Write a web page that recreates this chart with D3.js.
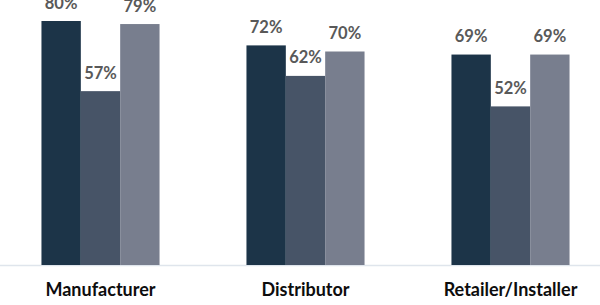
<!DOCTYPE html>
<html>
<head>
<meta charset="utf-8">
<script src="https://cdn.jsdelivr.net/npm/d3@7"></script>
<style>
  html, body { margin: 0; padding: 0; background: #fff; }
  svg { display: block; }
</style>
</head>
<body>
<div id="chart"></div>
<script>
  // Data
  const CATEGORIES = ['Manufacturer', 'Distributor', 'Retailer/Installer'];
  const SERIES = ['s1', 's2', 's3'];
  const VALUES_S1 = [80, 72, 69];
  const VALUES_S2 = [57, 62, 52];
  const VALUES_S3 = [79, 70, 69];
  const COLORS = ['#1c3448', '#475467', '#787e8e'];

  const W = 600, H = 305;
  const baseY = 265;

  const rows = CATEGORIES.map((c, i) => ({
    cat: c,
    vals: [VALUES_S1[i], VALUES_S2[i], VALUES_S3[i]]
  }));

  const svg = d3.select('#chart').append('svg').attr('width', W).attr('height', H);

  const x = d3.scaleBand().domain(CATEGORIES).range([-2, 613])
    .paddingInner(0.424).paddingOuter(0.212);
  const xs = d3.scaleBand().domain(SERIES).range([0, x.bandwidth()]);
  const y = d3.scaleLinear().domain([0, 100]).range([baseY, baseY - 305]);

  // baseline
  svg.append('line').attr('x1', 0).attr('x2', W).attr('y1', baseY + 0.5).attr('y2', baseY + 0.5)
    .attr('stroke', '#dfe5ec').attr('stroke-width', 1.5);

  const g = svg.selectAll('.grp').data(rows).enter().append('g')
    .attr('transform', d => `translate(${x(d.cat)},0)`);

  g.selectAll('rect').data(d => d.vals.map((v, j) => ({ v, s: SERIES[j], j }))).enter().append('rect')
    .attr('x', d => xs(d.s)).attr('width', xs.bandwidth())
    .attr('y', d => y(d.v)).attr('height', d => baseY - y(d.v))
    .attr('fill', d => COLORS[d.j]);

  // value labels (the top ones are clipped by the frame, as in the reference)
  g.selectAll('text.val').data(d => d.vals.map((v, j) => ({ v, s: SERIES[j] }))).enter().append('text')
    .attr('class', 'val')
    .attr('x', d => xs(d.s) + xs.bandwidth() / 2)
    .attr('y', d => y(d.v) - 12.5)
    .attr('text-anchor', 'middle')
    .style('font-family', 'Lato, sans-serif').style('font-weight', 700).style('font-size', '16.5px')
    .style('fill', '#595959')
    .text(d => d.v + '%');

  // category axis labels
  const xAxis = d3.axisBottom(x).tickSize(0).tickPadding(0);
  const ax = svg.append('g').attr('transform', `translate(0,${baseY})`).call(xAxis);
  ax.select('.domain').remove();
  ax.selectAll('text')
    .attr('y', 31).attr('dy', null)
    .style('font-family', 'Lato, sans-serif').style('font-weight', 700).style('font-size', '18px')
    .style('fill', '#0d0d0d');
</script>
</body>
</html>
